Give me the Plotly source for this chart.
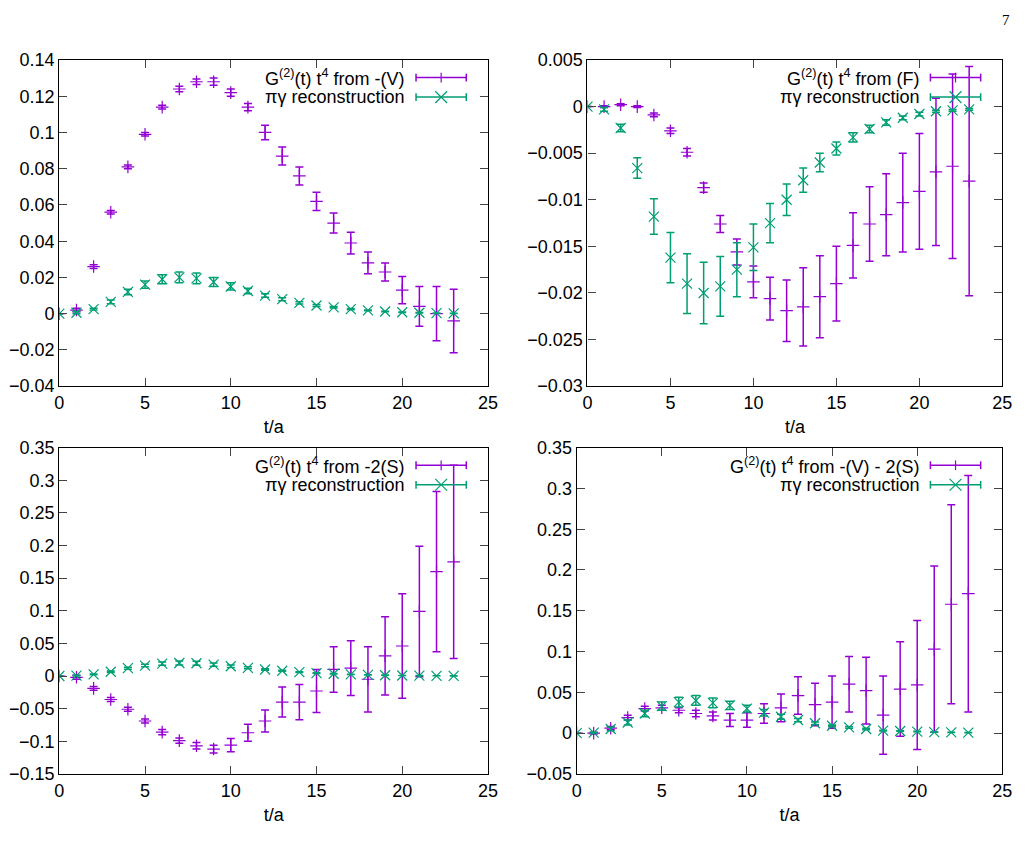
import plotly.graph_objects as go

t = list(range(24))

gV = [0, 0.002, 0.026, 0.056, 0.081, 0.099, 0.114, 0.124, 0.128, 0.128, 0.122, 0.114, 0.100, 0.087, 0.076, 0.062, 0.050, 0.039, 0.028, 0.023, 0.013, 0.004, 0.000, -0.004]
gV_err = [0, 0.001, 0.001, 0.001, 0.001, 0.001, 0.001, 0.0015, 0.0015, 0.002, 0.002, 0.002, 0.004, 0.005, 0.005, 0.005, 0.0055, 0.006, 0.006, 0.005, 0.0075, 0.011, 0.015, 0.0175]
pV = [0, 0.0005, 0.0025, 0.0065, 0.012, 0.016, 0.019, 0.020, 0.0195, 0.0175, 0.015, 0.0125, 0.010, 0.008, 0.006, 0.0045, 0.0035, 0.0025, 0.0018, 0.0012, 0.0008, 0.0005, 0.0003, 0.0002]
pV_err = [0, 0.0005, 0.0005, 0.001, 0.0015, 0.002, 0.0025, 0.003, 0.003, 0.0025, 0.002, 0.0015, 0.001, 0.0008, 0.0006, 0.0005, 0.0004, 0.0003, 0.0002, 0.0002, 0.0001, 0.0001, 0.0001, 0.0001]

gF = [0, 0.0000, 0.0002, 0.0000, -0.0009, -0.0026, -0.0049, -0.0087, -0.0126, -0.0156, -0.0188, -0.0206, -0.0219, -0.0215, -0.0204, -0.0190, -0.0149, -0.0126, -0.0116, -0.0103, -0.0091, -0.0070, -0.0064, -0.0080]
gF_err = [0, 0.0001, 0.0001, 0.0001, 0.0002, 0.0003, 0.0004, 0.0005, 0.0009, 0.0014, 0.0017, 0.0023, 0.0033, 0.0042, 0.0044, 0.0040, 0.0035, 0.0040, 0.0044, 0.0053, 0.0062, 0.0079, 0.0099, 0.0123]
pF = [0, -0.0003, -0.0023, -0.0066, -0.0118, -0.0162, -0.0190, -0.0200, -0.0193, -0.0175, -0.0151, -0.0125, -0.0100, -0.0079, -0.0060, -0.0045, -0.0033, -0.0024, -0.0017, -0.0012, -0.0008, -0.0005, -0.0004, -0.0003]
pF_err = [0, 0.0002, 0.0004, 0.0011, 0.0019, 0.0027, 0.0032, 0.0033, 0.0032, 0.0029, 0.0025, 0.0021, 0.0017, 0.0013, 0.0010, 0.0007, 0.0005, 0.0004, 0.0003, 0.0002, 0.0002, 0.0001, 0.0001, 0.0001]

gS = [0, -0.002, -0.019, -0.036, -0.051, -0.069, -0.086, -0.099, -0.107, -0.112, -0.106, -0.087, -0.069, -0.040, -0.040, -0.023, 0.010, 0.012, -0.005, 0.031, 0.046, 0.099, 0.160, 0.175]
gS_err = [0, 0.003, 0.003, 0.003, 0.003, 0.003, 0.004, 0.004, 0.005, 0.006, 0.010, 0.013, 0.017, 0.023, 0.027, 0.033, 0.035, 0.042, 0.050, 0.060, 0.080, 0.100, 0.123, 0.148]
pS = pV
pS_err = pV_err

gVS = [0, 0.000, 0.006, 0.019, 0.030, 0.031, 0.028, 0.024, 0.021, 0.016, 0.016, 0.024, 0.031, 0.046, 0.035, 0.038, 0.060, 0.052, 0.022, 0.054, 0.059, 0.103, 0.158, 0.171]
gVS_err = [0, 0.001, 0.002, 0.003, 0.003, 0.003, 0.003, 0.004, 0.005, 0.008, 0.009, 0.012, 0.017, 0.023, 0.026, 0.032, 0.034, 0.041, 0.048, 0.058, 0.079, 0.102, 0.122, 0.145]
pVS = [0, 0.0005, 0.005, 0.013, 0.024, 0.033, 0.038, 0.040, 0.037, 0.034, 0.030, 0.025, 0.020, 0.016, 0.012, 0.009, 0.007, 0.005, 0.003, 0.0025, 0.0018, 0.0012, 0.0008, 0.0005]
pVS_err = [0, 0.0005, 0.002, 0.003, 0.004, 0.005, 0.006, 0.006, 0.006, 0.005, 0.004, 0.004, 0.003, 0.002, 0.0015, 0.001, 0.001, 0.0008, 0.0005, 0.0004, 0.0003, 0.0002, 0.0002, 0.0001]

labels = ["G<sup>(2)</sup>(t) t<sup>4</sup> from -(V)", "G<sup>(2)</sup>(t) t<sup>4</sup> from (F)",
          "G<sup>(2)</sup>(t) t<sup>4</sup> from -2(S)", "G<sup>(2)</sup>(t) t<sup>4</sup> from -(V) - 2(S)"]
recon_label = "πγ reconstruction"

yranges = [[-0.04, 0.14], [-0.03, 0.005], [-0.15, 0.35], [-0.05, 0.35]]
ydtick = [0.02, 0.005, 0.05, 0.05]

PURPLE = "#9400D3"
GREEN = "#009E73"
W, H = 1028, 853
boxes = [(47, 482, 43, 377), (583, 1004, 43, 377), (47, 482, 440, 774), (572, 1004, 440, 774)]
data = [(gV, gV_err, pV, pV_err), (gF, gF_err, pF, pF_err), (gS, gS_err, pS, pS_err), (gVS, gVS_err, pVS, pVS_err)]

fig = go.Figure()
font = dict(family="Liberation Sans, Arial", size=18, color="black")
shapes, annos = [], []
for i, ((g, ge, p, pe), (l, r, tp, b)) in enumerate(zip(data, boxes)):
    xa = "x" if i == 0 else f"x{i+1}"
    ya = "y" if i == 0 else f"y{i+1}"
    fig.add_trace(go.Scatter(x=t, y=g, mode="markers", xaxis=xa, yaxis=ya,
        marker=dict(symbol="cross-thin", size=9, line=dict(color=PURPLE, width=1.2)),
        error_y=dict(array=ge, color=PURPLE, thickness=1.5, width=4), showlegend=False))
    fig.add_trace(go.Scatter(x=t, y=p, mode="markers", xaxis=xa, yaxis=ya,
        marker=dict(symbol="x-thin", size=10, line=dict(color=GREEN, width=1.2)),
        error_y=dict(array=pe, color=GREEN, thickness=1.5, width=4), showlegend=False))
    ax = dict(domain=[l / W, r / W], range=[0, 25], dtick=5, ticks="inside", ticklen=8,
              showline=True, linecolor="black", linewidth=1.2, mirror="ticks", showgrid=False,
              zeroline=False, tickfont=font, anchor=ya,
              title=dict(text="t/a", font=font, standoff=8))
    ay = dict(domain=[1 - b / H, 1 - tp / H], range=yranges[i], dtick=ydtick[i], ticks="inside",
              ticklen=8, showline=True, linecolor="black", linewidth=1.2, mirror="ticks",
              showgrid=False, zeroline=False, tickfont=font, anchor=xa)
    fig.layout[("xaxis" if i == 0 else f"xaxis{i+1}")] = ax
    fig.layout[("yaxis" if i == 0 else f"yaxis{i+1}")] = ay
    for j, (txt, col, sym) in enumerate([(labels[i], PURPLE, "+"), (recon_label, GREEN, "x")]):
        yy = tp + 18 + j * 20
        x0, x1 = r - 73, r - 22
        Y = 1 - yy / H
        shapes.append(dict(type="line", xref="paper", yref="paper", x0=x0 / W, x1=x1 / W, y0=Y, y1=Y,
                           line=dict(color=col, width=1.5)))
        for xe in (x0, x1):
            shapes.append(dict(type="line", xref="paper", yref="paper", x0=xe / W, x1=xe / W,
                               y0=1 - (yy - 4) / H, y1=1 - (yy + 4) / H, line=dict(color=col, width=1.5)))
        xm = (x0 + x1) / 2
        if sym == "+":
            shapes.append(dict(type="line", xref="paper", yref="paper", x0=xm / W, x1=xm / W,
                               y0=1 - (yy - 5) / H, y1=1 - (yy + 5) / H, line=dict(color=col, width=1.2)))
        else:
            for s in (1, -1):
                shapes.append(dict(type="line", xref="paper", yref="paper", x0=(xm - 6) / W, x1=(xm + 6) / W,
                                   y0=1 - (yy - 6 * s) / H, y1=1 - (yy + 6 * s) / H, line=dict(color=col, width=1.2)))
        annos.append(dict(xref="paper", yref="paper", x=(r - 83) / W, y=Y, xanchor="right", yanchor="middle",
                          text=txt, showarrow=False, font=font))
annos.append(dict(xref="paper", yref="paper", x=1008 / W, y=1 - 2 / H, text="7", showarrow=False,
                  font=dict(family="Liberation Serif", size=15, color="black"), xanchor="center", yanchor="middle"))
fig.update_layout(width=W, height=H, margin=dict(l=0, r=0, t=0, b=0), plot_bgcolor="white",
                  paper_bgcolor="white", shapes=shapes, annotations=annos, showlegend=False)
fig.write_html("out.html")
